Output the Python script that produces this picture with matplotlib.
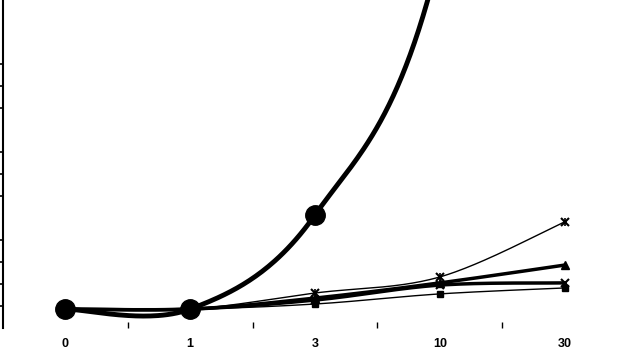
"""Dose-response style line chart with Excel-like smoothed curves."""
import numpy as np
import matplotlib
matplotlib.use("Agg")
import matplotlib.pyplot as plt

categories = ["0", "1", "3", "10", "30"]

circle_series = [0.86, 0.86, 5.14, 17.0, 52.0]
star_series = [0.86, 0.86, 1.59, 2.32, 4.82]
triangle_series = [0.86, 0.86, 1.36, 2.05, 2.86]
cross_series = [0.86, 0.86, 1.27, 1.95, 2.05]
square_series = [0.86, 0.86, 1.09, 1.55, 1.82]

y_ticks = [1, 2, 3, 4, 6, 7, 8, 10, 11, 12]


def smooth(xs, ys, n=60):
    """Bezier smoothing through the points, like a spreadsheet 'smoothed line'."""
    pts = np.column_stack([xs, ys]).astype(float)
    out = []
    for i in range(len(pts) - 1):
        p0 = pts[max(i - 1, 0)]
        p1 = pts[i]
        p2 = pts[i + 1]
        p3 = pts[min(i + 2, len(pts) - 1)]
        c1 = p1 + (p2 - p0) / 6
        c2 = p2 - (p3 - p1) / 6
        t = np.linspace(0, 1, n)[:, None]
        seg = ((1 - t) ** 3) * p1 + 3 * ((1 - t) ** 2) * t * c1 \
            + 3 * (1 - t) * t ** 2 * c2 + t ** 3 * p2
        out.append(seg if i == 0 else seg[1:])
    out = np.vstack(out)
    return out[:, 0], out[:, 1]


fig = plt.figure(figsize=(6.25, 3.49), dpi=100)
ax = fig.add_axes([3 / 625, 1 - 328 / 349, 624 / 625, 328 / 349])
x = np.arange(len(categories))

styles = [
    (square_series, "s", 1.0, 4),
    (cross_series, "x", 2.5, 6),
    (triangle_series, "^", 2.5, 6),
    (star_series, "x", 1.0, 6),
    (circle_series, "o", 3.5, 14),
]
for ys, mk, lw, ms in styles:
    sx, sy = smooth(x, ys)
    ax.plot(sx, sy, color="black", lw=lw, solid_capstyle="round")
    ax.plot(x, ys, ls="none", marker=mk, ms=ms, color="black",
            markeredgewidth=1.5 if mk == "x" else 1)
# vertical bar completes the asterisk marker
ax.plot(x, star_series, ls="none", marker="|", ms=6, color="black", markeredgewidth=1.2)

ax.set_xlim(-0.5, 4.5)
ax.set_ylim(0, 328 / 22)

for side in ("top", "right", "bottom"):
    ax.spines[side].set_visible(False)
ax.spines["left"].set_linewidth(1.5)

ax.set_yticks(y_ticks)
ax.set_yticklabels([])
ax.tick_params(axis="y", direction="out", length=2.5, width=1.2)

ax.set_xticks(np.arange(len(categories)) + 0.5)
ax.set_xticklabels([])
ax.tick_params(axis="x", which="major", direction="in", length=4, width=1)
ax.set_xticks(x, minor=True)
ax.set_xticklabels(categories, minor=True, fontfamily="Liberation Sans",
                   fontweight="bold", fontsize=9)
ax.tick_params(axis="x", which="minor", length=0, pad=7)

fig.savefig("out.png", dpi=100)
